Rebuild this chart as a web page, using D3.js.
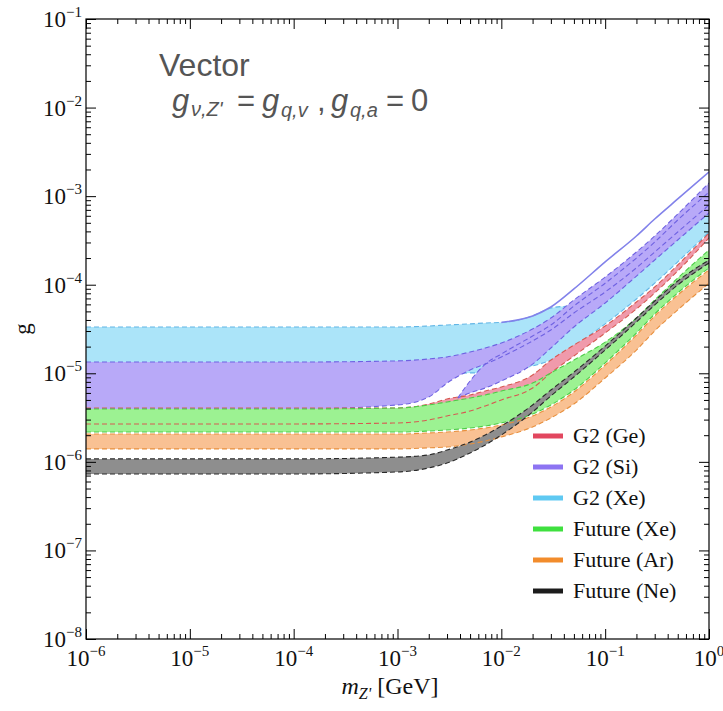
<!DOCTYPE html>
<html><head><meta charset="utf-8">
<script src="https://cdn.jsdelivr.net/npm/d3@7"></script>
<style>body{margin:0;background:#fff}</style>
</head><body>
<svg id="c" width="723" height="711"></svg>
<script>
// ---------- data ----------
const masses = [1e-6,1e-4,1e-3,2e-3,3e-3,5e-3,7e-3,1e-2,2e-2,3e-2,5e-2,0.1,0.2,0.3,0.5,1];
const lobeMasses = [3.8e-3,5e-3,7e-3,1e-2,2e-2,3e-2,5e-2,0.1,0.2,0.3,0.5,1];
const edgeMasses = [1e-2,2e-2,3e-2,5e-2,0.1,0.2,0.3,0.5,1];

const xeG2Top    = [3.33e-5,3.33e-5,3.33e-5,3.42e-5,3.51e-5,3.61e-5,3.70e-5,3.75e-5,4.44e-5,5.46e-5,5.90e-5,1.07e-4,2.11e-4,3.20e-4,5.66e-4,1.24e-3];
const xeG2Bottom = [9.82e-6,9.82e-6,9.82e-6,9.82e-6,9.82e-6,1.01e-5,1.01e-5,1.06e-5,1.21e-5,1.41e-5,2.03e-5,3.61e-5,6.90e-5,1.04e-4,1.81e-4,3.94e-4];
const xeG2Edge   = [3.75e-5,4.44e-5,5.60e-5,8.96e-5,1.81e-4,3.55e-4,5.52e-4,9.29e-4,1.87e-3];

const siTop      = [1.34e-5,1.34e-5,1.38e-5,1.45e-5,1.53e-5,1.74e-5,1.93e-5,2.20e-5,3.16e-5,4.21e-5,6.73e-5,1.22e-4,2.34e-4,3.55e-4,6.28e-4,1.41e-3];
const siBottom   = [3.95e-6,3.95e-6,4.39e-6,5.40e-6,7.76e-6,1.09e-5,1.27e-5,1.53e-5,2.32e-5,3.08e-5,4.80e-5,8.28e-5,1.55e-4,2.34e-4,3.94e-4,7.94e-4];
const siLobeTop    = [5.26e-6,8.18e-6,1.27e-5,1.65e-5,2.64e-5,3.51e-5,5.75e-5,1.04e-4,2.00e-4,3.03e-4,5.38e-4,1.11e-3];
const siLobeBottom = [5.26e-6,6.00e-6,6.82e-6,8.18e-6,1.27e-5,1.93e-5,3.33e-5,6.22e-5,1.25e-4,1.90e-4,3.20e-4,6.46e-4];

const geTop      = [4.06e-6,4.06e-6,4.06e-6,4.50e-6,5.13e-6,5.69e-6,6.31e-6,7.00e-6,9.57e-6,1.41e-5,2.08e-5,3.42e-5,6.38e-5,9.42e-5,1.67e-4,3.84e-4];
const geBottom   = [2.68e-6,2.68e-6,2.75e-6,2.97e-6,3.30e-6,3.75e-6,4.28e-6,5.00e-6,6.82e-6,1.01e-5,1.57e-5,2.85e-5,5.32e-5,8.07e-5,1.43e-4,3.37e-4];

const futXeTop    = [3.95e-6,3.95e-6,4.06e-6,4.39e-6,4.75e-6,5.26e-6,5.69e-6,6.31e-6,7.76e-6,1.01e-5,1.41e-5,2.25e-5,4.21e-5,6.73e-5,1.19e-4,2.47e-4];
const futXeBottom = [2.17e-6,2.17e-6,2.17e-6,2.23e-6,2.29e-6,2.41e-6,2.54e-6,2.75e-6,3.47e-6,4.39e-6,6.47e-6,1.31e-5,2.85e-5,4.67e-5,8.07e-5,1.55e-4];
const futArTop    = [2.06e-6,2.06e-6,2.06e-6,2.12e-6,2.17e-6,2.29e-6,2.41e-6,2.61e-6,3.30e-6,4.16e-6,6.15e-6,1.24e-5,2.70e-5,4.44e-5,7.66e-5,1.47e-4];
const futArBottom = [1.40e-6,1.40e-6,1.40e-6,1.44e-6,1.47e-6,1.59e-6,1.72e-6,1.91e-6,2.48e-6,3.13e-6,4.50e-6,8.85e-6,1.83e-5,3.01e-5,5.19e-5,1.04e-4];
const futNeTop    = [1.08e-6,1.08e-6,1.13e-6,1.20e-6,1.36e-6,1.67e-6,2.01e-6,2.54e-6,4.39e-6,6.47e-6,1.03e-5,2.03e-5,4.21e-5,6.55e-5,1.10e-4,1.90e-4];
const futNeBottom = [7.30e-7,7.30e-7,7.69e-7,8.53e-7,9.70e-7,1.26e-6,1.55e-6,2.01e-6,3.66e-6,5.55e-6,9.08e-6,1.83e-5,3.79e-5,5.90e-5,9.93e-5,1.76e-4];

const legendLabels = ["G2 (Ge)","G2 (Si)","G2 (Xe)","Future (Xe)","Future (Ar)","Future (Ne)"];
const legendColors = ["#e2475f","#8d74f2","#5fc9f2","#3fe03f","#f28c2c","#1c1c1c"];
const xTickExps = [-6,-5,-4,-3,-2,-1,0];
const yTickExps = [-8,-7,-6,-5,-4,-3,-2,-1];

// ---------- setup ----------
const svg = d3.select("#c");
const L=86, R=709, T=19, B=639;
const x = d3.scaleLog().domain([1e-6,1]).range([L,R]);
const y = d3.scaleLog().domain([1e-8,1e-1]).range([B,T]);
const serif = "'Liberation Serif','Times New Roman',serif";
const sans = "'Liberation Sans',Arial,sans-serif";

const clip = svg.append("defs").append("clipPath").attr("id","pc");
clip.append("rect").attr("x",L).attr("y",T).attr("width",R-L).attr("height",B-T);
const plot = svg.append("g").attr("clip-path","url(#pc)");

function band(ms, top, bot){ return ms.map((m,i)=>({m, t:top[i], b:bot[i]})); }
const area = d3.area().x(d=>x(d.m)).y0(d=>y(d.b)).y1(d=>y(d.t)).curve(d3.curveMonotoneX);
const lineT = d3.line().x(d=>x(d.m)).y(d=>y(d.t)).curve(d3.curveMonotoneX);
const lineB = d3.line().x(d=>x(d.m)).y(d=>y(d.b)).curve(d3.curveMonotoneX);

const xe = {d:band(masses,xeG2Top,xeG2Bottom), fill:"#abe4f9", edge:"#62b6e6"};
const ge = {d:band(masses,geTop,geBottom), fill:"#f09aab", edge:"#d65a52"};
const si = {d:band(masses,siTop,siBottom), fill:"#b8a9f8", edge:"#6f62e2"};
const siL = {d:band(lobeMasses,siLobeTop,siLobeBottom), fill:"#b8a9f8", edge:"#6f62e2"};
const fxe = {d:band(masses,futXeTop,futXeBottom), fill:"#9cf292", edge:"#4ccc47"};
const far = {d:band(masses,futArTop,futArBottom), fill:"#f9c193", edge:"#e8903e"};
const fne = {d:band(masses,futNeTop,futNeBottom), fill:"#8e8e8e", edge:"#2a2a2a"};

function fill(b){ plot.append("path").attr("d",area(b.d)).attr("fill",b.fill); }
function edges(b){
  [lineT,lineB].forEach(fn=>plot.append("path").attr("d",fn(b.d)).attr("fill","none")
    .attr("stroke",b.edge).attr("stroke-width",1.1).attr("stroke-dasharray","5,3"));
}
fill(xe); edges(xe);
fill(ge);
fill(si); fill(siL); edges(si); edges(siL);
// upper edge of the Xe G2 region at heavy masses
plot.append("path")
  .attr("d", d3.line().x((m)=>x(m)).y((m,i)=>y(xeG2Edge[i])).curve(d3.curveMonotoneX)(edgeMasses))
  .attr("fill","none").attr("stroke","#8282ea").attr("stroke-width",1.6);
fill(fxe); fill(far); fill(fne);
edges(ge); edges(fxe); edges(far); edges(fne);

// ---------- axes ----------
const majorX = xTickExps.map(e=>Math.pow(10,e));
const minorX = []; xTickExps.slice(0,-1).forEach(e=>{for(let k=2;k<10;k++) minorX.push(k*Math.pow(10,e));});
const majorY = yTickExps.map(e=>Math.pow(10,e));
const minorY = []; yTickExps.slice(0,-1).forEach(e=>{for(let k=2;k<10;k++) minorY.push(k*Math.pow(10,e));});

function ax(gen, vals, size, tr){
  const g = svg.append("g").attr("transform",tr)
    .call(gen.tickValues(vals).tickSize(-size).tickFormat(""));
  g.select(".domain").remove();
  g.selectAll("line").attr("stroke","#000").attr("stroke-width",1);
}
ax(d3.axisBottom(x), majorX, 10, `translate(0,${B})`);
ax(d3.axisBottom(x), minorX, 5, `translate(0,${B})`);
ax(d3.axisTop(x), majorX, 10, `translate(0,${T})`);
ax(d3.axisTop(x), minorX, 5, `translate(0,${T})`);
ax(d3.axisLeft(y), majorY, 10, `translate(${L},0)`);
ax(d3.axisLeft(y), minorY, 5, `translate(${L},0)`);
ax(d3.axisRight(y), majorY, 10, `translate(${R},0)`);
ax(d3.axisRight(y), minorY, 5, `translate(${R},0)`);

svg.append("rect").attr("x",L).attr("y",T).attr("width",R-L).attr("height",B-T)
  .attr("fill","none").attr("stroke","#000").attr("stroke-width",1.2);

// tick labels
xTickExps.forEach(e=>{
  const t = svg.append("text").attr("x",x(Math.pow(10,e))).attr("y",666)
    .attr("text-anchor","middle").attr("font-family",serif).attr("font-size",23).attr("fill","#111");
  t.append("tspan").text("10");
  t.append("tspan").attr("dy",-10).attr("font-size",15).text(e===0?"0":"\u2212"+(-e));
});
yTickExps.forEach(e=>{
  const t = svg.append("text").attr("x",82).attr("y",y(Math.pow(10,e))+8)
    .attr("text-anchor","end").attr("font-family",serif).attr("font-size",23).attr("fill","#111");
  t.append("tspan").text("10");
  t.append("tspan").attr("dy",-10).attr("font-size",15).text("\u2212"+(-e));
});

// axis titles
svg.append("text").attr("transform","translate(30,329) rotate(-90)").attr("text-anchor","middle")
  .attr("font-family",serif).attr("font-size",23).attr("fill","#111").text("g");
const xt = svg.append("text").attr("x",390).attr("y",694).attr("text-anchor","middle")
  .attr("font-family",serif).attr("font-size",24).attr("fill","#111");
xt.append("tspan").attr("font-style","italic").text("m");
xt.append("tspan").attr("font-style","italic").attr("font-size",16).attr("dy",5).text("Z'");
xt.append("tspan").attr("dy",-5).text(" [GeV]");

// annotations
svg.append("text").attr("x",159).attr("y",76).attr("font-family",sans).attr("font-size",32)
  .attr("fill","#555").text("Vector");
const f = svg.append("g").attr("font-family",sans).attr("fill","#555");
function seg(tx,xx,yy,fs,it){ f.append("text").attr("x",xx).attr("y",yy).attr("font-size",fs)
  .attr("font-style",it?"italic":"normal").text(tx); }
seg("g",172,111,31,true); seg("\u03BD,Z'",191,116,20,true); seg("=",237,111,31,false);
seg("g",262,111,31,true); seg("q,v",281,117,20,true); seg(",",317,111,31,false);
seg("g",331,111,31,true); seg("q,a",350,117,20,true); seg("=",386,111,31,false); seg("0",411,111,31,false);

// legend
legendLabels.forEach((lab,i)=>{
  const yy = 436 + i*31;
  svg.append("line").attr("x1",533).attr("x2",563).attr("y1",yy).attr("y2",yy)
    .attr("stroke",legendColors[i]).attr("stroke-width",5);
  svg.append("text").attr("x",573).attr("y",yy+7).attr("font-family",serif).attr("font-size",22)
    .attr("fill","#111").text(lab);
});
</script></body></html>
